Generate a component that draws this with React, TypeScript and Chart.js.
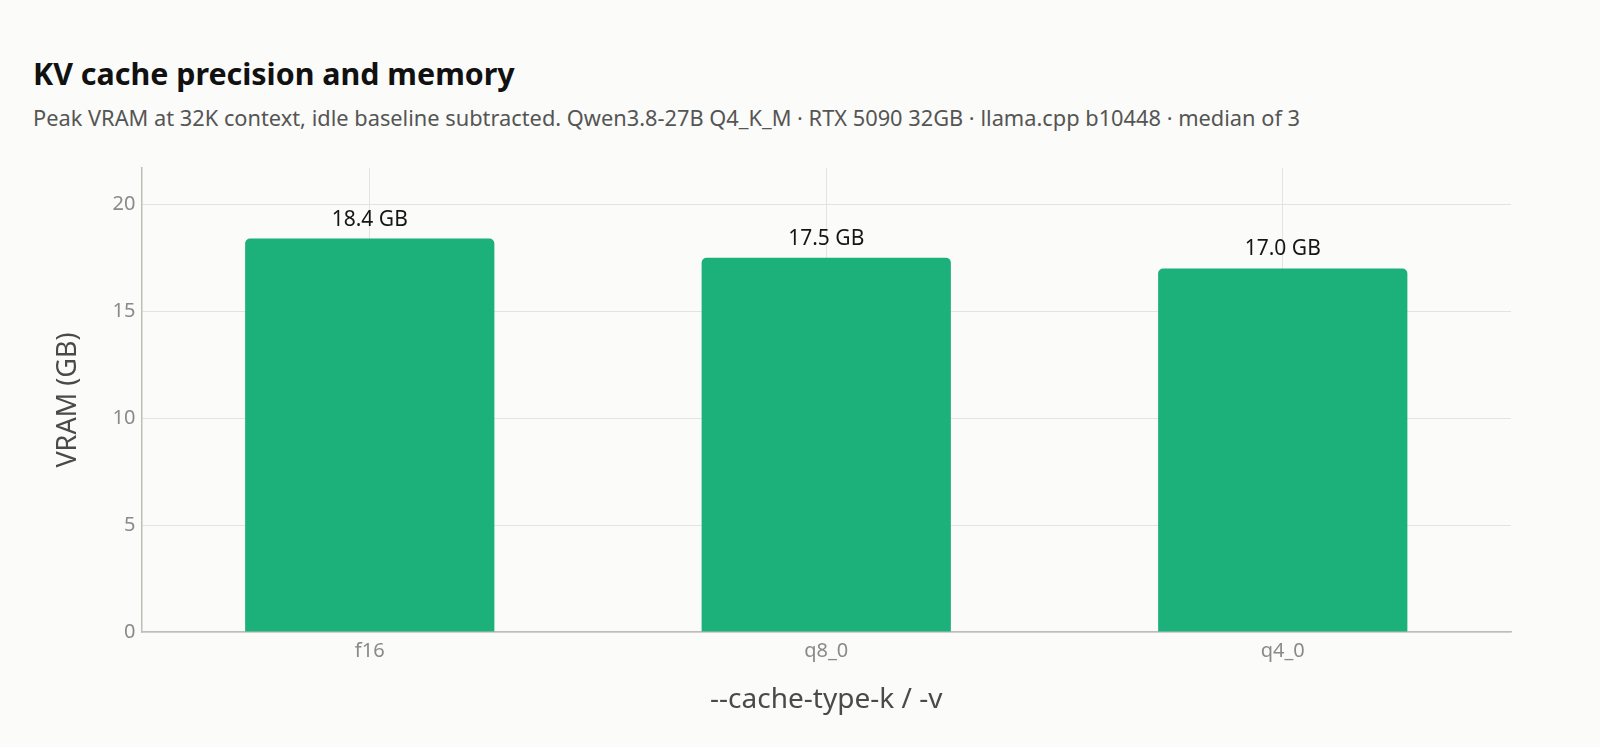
import { useEffect, useRef } from "react";
import { Chart, registerables } from "chart.js";

Chart.register(...registerables);

// dados do gráfico
const categories = ["f16", "q8_0", "q4_0"];
const vramGB = [18.4, 17.5, 17.0];
const yTicks = [0, 5, 10, 15, 20];

const FONT = "'Noto Sans', 'Open Sans', sans-serif";
const BAR_COLOR = "#1cb17b";

// rótulos de valor acima das barras
const valueLabels = {
  id: "valueLabels",
  afterDatasetsDraw(chart: Chart) {
    const { ctx } = chart;
    const meta = chart.getDatasetMeta(0);
    ctx.save();
    ctx.font = `21px ${FONT}`;
    ctx.fillStyle = "#151515";
    ctx.textAlign = "center";
    ctx.textBaseline = "middle";
    meta.data.forEach((bar: any, i: number) => {
      ctx.fillText(`${vramGB[i].toFixed(1)} GB`, bar.x, bar.y - 19);
    });
    ctx.restore();
  },
};

function VramChart() {
  const chartRef = useRef<HTMLCanvasElement>(null);
  const chartInstance = useRef<Chart | null>(null);

  useEffect(() => {
    const canvas = chartRef.current;
    if (!canvas) return;

    chartInstance.current = new Chart(canvas, {
      type: "bar",
      data: {
        labels: categories,
        datasets: [
          {
            label: "VRAM (GB)",
            data: vramGB,
            backgroundColor: BAR_COLOR,
            borderRadius: { topLeft: 5, topRight: 5, bottomLeft: 0, bottomRight: 0 },
            borderSkipped: "start",
            categoryPercentage: 1,
            barPercentage: 0.546,
          },
        ],
      },
      options: {
        responsive: false,
        animation: false,
        layout: { padding: { top: 168, left: 47, right: 89, bottom: 0 } },
        plugins: {
          legend: { display: false },
          tooltip: { enabled: false },
        },
        scales: {
          x: {
            grid: { offset: false, color: "#e3e3df", lineWidth: 1, drawTicks: false },
            border: { color: "#bfbeb6", width: 1.5 },
            ticks: {
              color: "#8a8a8a",
              font: { family: FONT, size: 20 },
              padding: 7,
            },
            title: {
              display: true,
              text: "--cache-type-k / -v",
              color: "#4a4a4a",
              font: { family: FONT, size: 28 },
              padding: { top: 4, bottom: 30 },
            },
            afterFit(scale: any) {
              scale.height = 747 - 632;
            },
          },
          y: {
            min: 0,
            max: 21.7,
            grid: { color: "#e3e3df", lineWidth: 1, drawTicks: false },
            border: { color: "#bfbeb6", width: 1.5 },
            afterBuildTicks(scale: any) {
              scale.ticks = yTicks.map((v) => ({ value: v }));
            },
            ticks: {
              color: "#8a8a8a",
              font: { family: FONT, size: 20 },
              padding: 6,
            },
            title: {
              display: true,
              text: "VRAM (GB)",
              color: "#4a4a4a",
              font: { family: FONT, size: 27 },
              padding: { top: 5, bottom: 4 },
            },
            afterFit(scale: any) {
              scale.width = 141.5 - 47;
            },
          },
        },
      },
      plugins: [valueLabels],
    });

    return () => {
      if (chartInstance.current) {
        chartInstance.current.destroy();
        chartInstance.current = null;
      }
    };
  }, []);

  return <canvas ref={chartRef} width={1600} height={747} />;
}

export default function App() {
  return (
    <div
      style={{
        position: "fixed",
        left: 0,
        top: 0,
        width: 1600,
        height: 747,
        background: "#fbfbf9",
        fontFamily: FONT,
        overflow: "hidden",
      }}
    >
      <div
        style={{
          position: "absolute",
          left: 33,
          top: 59,
          fontSize: 30.4,
          lineHeight: "30px",
          fontWeight: 700,
          color: "#111",
          whiteSpace: "nowrap",
        }}
      >
        KV cache precision and memory
      </div>
      <div
        style={{
          position: "absolute",
          left: 33,
          top: 107,
          fontSize: 21.8,
          lineHeight: "22px",
          color: "#555",
          whiteSpace: "nowrap",
        }}
      >
        Peak VRAM at 32K context, idle baseline subtracted. Qwen3.8-27B Q4_K_M · RTX 5090 32GB · llama.cpp b10448 · median of 3
      </div>
      <div style={{ position: "absolute", left: 0, top: 0 }}>
        <VramChart />
      </div>
    </div>
  );
}
